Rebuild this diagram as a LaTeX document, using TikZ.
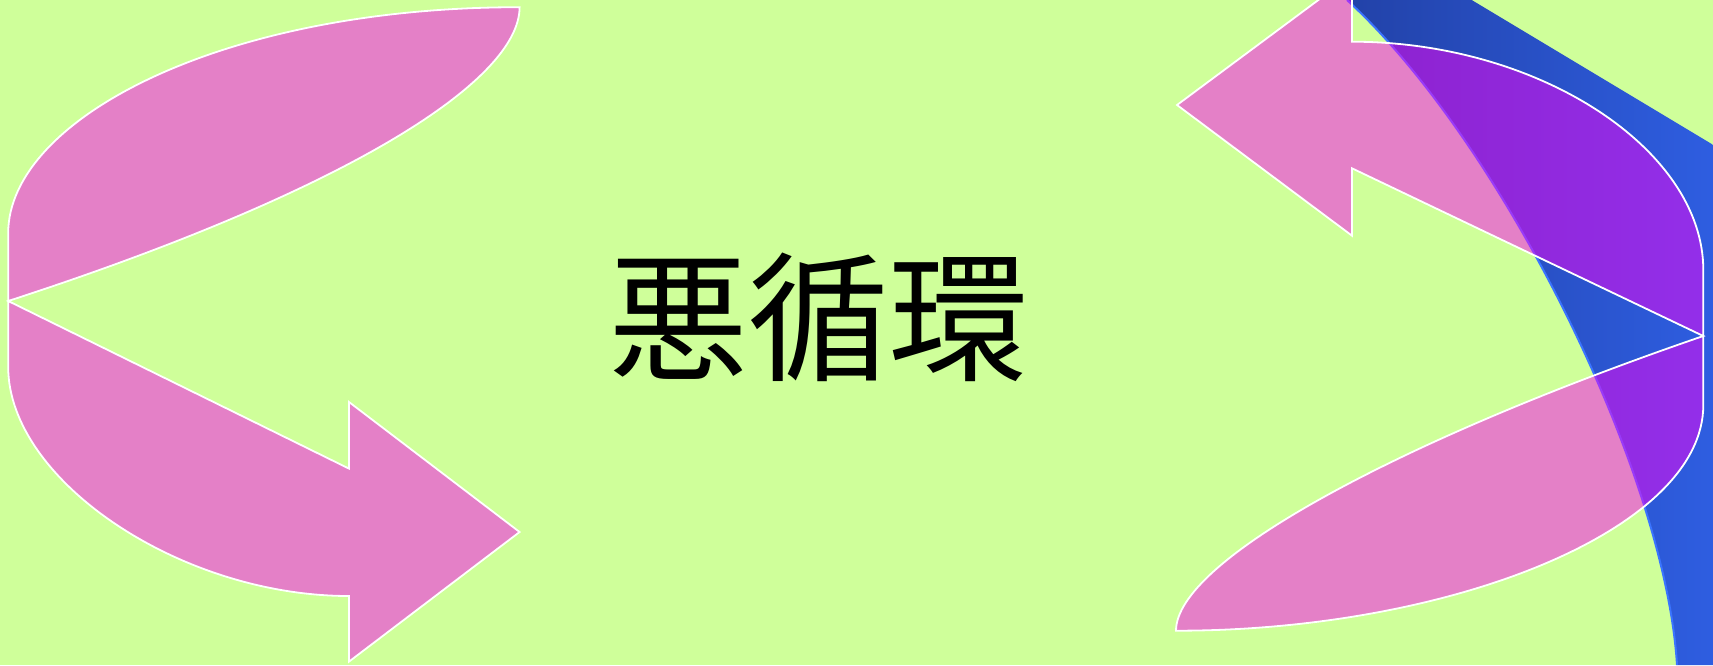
\documentclass[tikz,border=0pt]{standalone}
\usepackage{fontspec}
\newfontfamily\cjk{Noto Sans CJK JP}
\definecolor{bg}{HTML}{CFFF9A}
\definecolor{pinkfill}{HTML}{F902F4}
\definecolor{blueL}{HTML}{2242A8}
\definecolor{blueR}{HTML}{3164EE}
\definecolor{blueedge}{HTML}{3A74FF}
\tikzset{
  arrowband/.style={fill=pinkfill, fill opacity=0.5, draw=white, draw opacity=1, line width=1.8pt, line join=miter},
  titletext/.style={font=\cjk\fontsize{140}{140}\selectfont, inner sep=0pt, text=black}
}
\begin{document}
\begin{tikzpicture}[x=1pt,y=-1pt]
\fill[bg] (0,0) rectangle (1713,665);
\useasboundingbox (0,0) rectangle (1713,665);
\begin{scope}
\clip (0,0) rectangle (1713,665);
% blue band
\shade[left color=blueL,right color=blueR]
  (1347,0) .. controls (1500,140) and (1665,470) .. (1677,665)
  -- (1800,665) -- (1800,197) -- (1471.7,0) -- cycle;
\draw[blueedge, line width=2pt]
  (1347,0) .. controls (1500,140) and (1665,470) .. (1677,665);
% left curved arrow
\draw[arrowband]
  (519.6,7.2) .. controls (220,7.2) and (8.2,120) .. (8.2,233)
  -- (8.2,367)
  .. controls (8.2,480) and (180,596) .. (349,596)
  -- (349,661.6) -- (519.6,532) -- (349,402) -- (349,468.6)
  -- (8.2,301)
  .. controls (350,190) and (519.6,80) .. (519.6,7.2) -- cycle;
% right curved arrow
\draw[arrowband]
  (1176,630.7) .. controls (1450,630.7) and (1703.3,530) .. (1703.3,405)
  -- (1703.3,270)
  .. controls (1703.3,150) and (1540,41.7) .. (1352,41.7)
  -- (1352,-25) -- (1177,105) -- (1352,235.7) -- (1352,168.3)
  -- (1703.3,336)
  .. controls (1400,440) and (1176,560) .. (1176,630.7) -- cycle;
\end{scope}
\node[titletext] (title) at (818.5,317.5) {悪循環};
\end{tikzpicture}
\end{document}
